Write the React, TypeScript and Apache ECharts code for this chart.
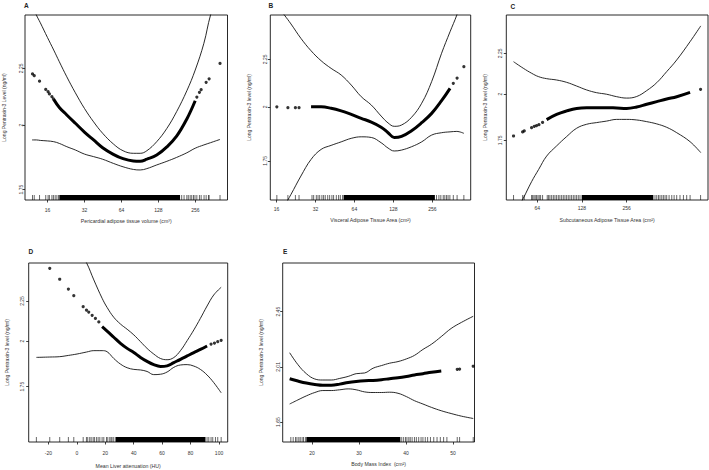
import React, { useEffect, useRef } from 'react';
import * as echarts from 'echarts';

const FONT = '"Liberation Sans", Arial, Helvetica, sans-serif';

// ---------- Panel A : Pericardial adipose tissue volume ----------
const aX = [12, 13, 14, 16, 18, 20, 23, 27, 32, 38, 45, 55, 66, 80, 91, 103, 124, 150, 180, 218, 255, 300, 340, 406];
const aFit = [null, null, null, null, 2.110, 2.075, 2.043, 2.008, 1.972, 1.940, 1.909, 1.883, 1.866, 1.857, 1.856, 1.864, 1.880, 1.912, 1.955, 2.026, 2.104, null, null, null];
const aUpper = [2.567, 2.513, 2.473, 2.399, 2.337, 2.281, 2.211, 2.139, 2.071, 2.014, 1.967, 1.924, 1.897, 1.887, 1.887, 1.897, 1.933, 1.987, 2.057, 2.148, 2.242, 2.370, 2.513, 2.662];
const aLower = [1.940, 1.940, 1.938, 1.936, 1.933, 1.926, 1.913, 1.900, 1.884, 1.874, 1.864, 1.848, 1.835, 1.825, 1.823, 1.828, 1.842, 1.856, 1.871, 1.889, 1.907, 1.920, 1.929, 1.942];
const aDots = [[12.1, 2.224], [12.5, 2.216], [13.8, 2.191], [15.5, 2.154], [16.2, 2.144], [16.6, 2.134], [17.4, 2.122], [17.9, 2.112], [263, 2.120], [276, 2.141], [285, 2.153], [313, 2.186], [331, 2.202], [406, 2.273]];
const aRug = [12.1, 12.5, 13.8, 15.5, 16.2, 16.6, 17.4, 17.9, 18.5, 19.1, 19.7, 198, 207, 218, 224, 232, 239, 247, 254, 263, 276, 285, 301, 313, 327, 331, 406];
const aRugBand = [[20, 192]];

// ---------- Panel B : Visceral adipose tissue area ----------
const bX = [16.1, 18.4, 20.7, 24.7, 29.6, 35.4, 42.3, 50.6, 60.5, 72.3, 86.5, 103, 116.5, 130, 148, 177, 212, 253, 302, 351, 396, 449];
const bFit = [null, null, null, null, 2.0, 2.0, 1.993, 1.98, 1.963, 1.944, 1.926, 1.902, 1.876, 1.854, 1.859, 1.885, 1.923, 1.968, 2.031, 2.094, null, null];
const bUpper = [2.574, 2.511, 2.456, 2.370, 2.298, 2.242, 2.200, 2.164, 2.111, 2.051, 2.009, 1.955, 1.922, 1.906, 1.912, 1.949, 2.018, 2.129, 2.284, 2.409, 2.511, 2.650];
const bLower = [1.514, 1.564, 1.610, 1.685, 1.756, 1.800, 1.818, 1.834, 1.850, 1.857, 1.854, 1.830, 1.806, 1.793, 1.797, 1.812, 1.834, 1.865, 1.876, 1.880, 1.882, 1.873];
const bDots = [[16.1, 2.0], [19.6, 1.996], [22.4, 1.996], [23.9, 1.996], [372, 2.12], [398, 2.148], [449, 2.209]];
const bRug = [16.1, 19.6, 22.4, 23.9, 30.1, 31.0, 32.5, 33.5, 34.5, 35.9, 37.0, 38.1, 39.8, 41.2, 42.9, 44.2, 46.4, 48.3, 49.8, 51.9, 276, 288, 298, 311, 320, 330, 339, 350, 372, 398, 449];
const bRugBand = [[52.8, 268]];

// ---------- Panel C : Subcutaneous adipose tissue area ----------
const cX = [44.3, 51.5, 58.6, 65.4, 74, 86.4, 100.9, 117.8, 137.6, 160.7, 187.7, 219.2, 256, 299, 349, 408, 476, 556, 684, 807];
const cFit = [null, null, null, null, 1.858, 1.886, 1.905, 1.919, 1.923, 1.923, 1.923, 1.921, 1.919, 1.927, 1.942, 1.957, 1.972, 1.985, 2.010, null];
const cUpper = [2.196, 2.155, 2.124, 2.103, 2.091, 2.083, 2.069, 2.047, 2.024, 2.008, 1.999, 1.985, 1.977, 1.986, 2.020, 2.067, 2.134, 2.207, 2.327, 2.435];
const cLower = [1.404, 1.480, 1.553, 1.609, 1.672, 1.722, 1.769, 1.812, 1.833, 1.842, 1.850, 1.859, 1.859, 1.856, 1.847, 1.835, 1.817, 1.789, 1.743, 1.689];
const cDots = [[44.3, 1.772], [51.0, 1.793], [52.3, 1.798], [58.6, 1.815], [61.1, 1.822], [63.3, 1.826], [65.7, 1.831], [69.5, 1.843], [805, 2.028]];
const cRug = [44.3, 51.0, 52.3, 58.6, 59.6, 60.8, 62.0, 63.3, 64.7, 66.0, 67.4, 69.5, 74.7, 76.3, 77.9, 80.0, 82.1, 84.2, 86.4, 88.7, 90.9, 93.4, 95.8, 98.3, 100.9, 103.5, 106.2, 109, 111.9, 114.8, 117.8, 120.9, 124.1, 397, 408, 419, 429, 441, 452, 464, 476, 494, 515, 534, 556, 585, 617, 649, 684, 805];
const cRugBand = [[127.4, 387]];

// ---------- Panel D : Mean liver attenuation ----------
const dX = [-28.4, -19.0, -12.0, -5.9, 0.2, 6.8, 12.0, 17.8, 21.3, 26.0, 30.7, 35.4, 40.1, 44.8, 49.4, 54.1, 58.8, 63.5, 68.2, 72.9, 77.6, 82.3, 86.9, 91.6, 96.3, 101.5];
const dFit = [null, null, null, null, null, null, null, 2.087, 2.060, 2.023, 1.987, 1.958, 1.934, 1.907, 1.885, 1.867, 1.857, 1.860, 1.878, 1.896, 1.915, 1.934, 1.952, 1.972, null, null];
const dUpper = [null, null, null, null, 2.639, 2.518, 2.393, 2.268, 2.208, 2.145, 2.103, 2.071, 2.037, 1.997, 1.958, 1.926, 1.901, 1.894, 1.906, 1.945, 2.003, 2.067, 2.138, 2.217, 2.290, 2.342];
const dLower = [1.907, 1.909, 1.911, 1.918, 1.926, 1.937, 1.945, 1.945, 1.939, 1.901, 1.870, 1.850, 1.841, 1.838, 1.830, 1.813, 1.815, 1.827, 1.852, 1.865, 1.867, 1.859, 1.841, 1.811, 1.771, 1.719];
const dDots = [[-19.0, 2.476], [-12.0, 2.398], [-5.9, 2.330], [-2.1, 2.285], [4.5, 2.213], [6.8, 2.191], [8.4, 2.178], [10.8, 2.157], [13.1, 2.138], [15.5, 2.116], [94.4, 1.983], [96.8, 1.989], [99.1, 1.997], [101.5, 2.005]];
const dRug = [-28.4, -19.0, -12.0, -5.9, -2.1, 4.5, 6.8, 7.7, 9.1, 10.1, 11.5, 12.4, 13.8, 15.0, 16.2, 17.8, 19.0, 20.9, 21.8, 23.2, 24.1, 24.8, 26.0, 91.6, 92.8, 94.4, 95.6, 97.5, 99.1, 101.5];
const dRugBand = [[27.2, 90.5]];

// ---------- Panel E : Body mass index ----------
const eX = [15.25, 17.0, 18.8, 20.6, 22.3, 24.1, 25.9, 27.7, 29.4, 31.2, 33.0, 34.8, 36.5, 38.3, 40.1, 41.8, 43.6, 45.4, 47.5, 49.6, 51.8, 54.3];
const eFit = [1.927, 1.911, 1.897, 1.888, 1.883, 1.883, 1.890, 1.901, 1.908, 1.913, 1.915, 1.920, 1.927, 1.934, 1.943, 1.953, 1.962, 1.972, 1.981, null, null, null];
const eUpper = [2.115, 2.027, 1.962, 1.925, 1.918, 1.918, 1.929, 1.943, 1.962, 1.967, 2.001, 2.020, 2.037, 2.049, 2.069, 2.095, 2.140, 2.180, 2.241, 2.307, 2.358, 2.410];
const eLower = [1.760, 1.786, 1.812, 1.834, 1.847, 1.847, 1.852, 1.858, 1.852, 1.838, 1.834, 1.834, 1.836, 1.829, 1.807, 1.781, 1.760, 1.739, 1.718, 1.701, 1.685, 1.671];
const eDots = [[50.9, 1.993], [51.4, 1.995], [54.3, 2.015]];
const eRug = [15.5, 16.0, 16.5, 16.8, 17.2, 17.5, 17.9, 18.2, 18.6, 39.1, 39.5, 39.9, 40.2, 40.6, 40.9, 41.3, 41.8, 42.2, 42.7, 43.2, 43.6, 44.1, 44.6, 45.2, 45.9, 46.6, 47.3, 48.0, 48.7, 50.9, 51.4, 54.3];
const eRugBand = [[18.8, 38.8]];

// tick labels
const adiposeTicks = [16, 32, 64, 128, 256];
const subcutTicks = [64, 128, 256];
const liverTicks = [-20, 0, 20, 40, 60, 80, 100];
const bmiTicks = [20, 30, 40, 50];
const ptxTicks = [1.75, 2, 2.25];
const ptxTicksE = [1.65, 2.01, 2.45];

const panels = [
  {
    letter: 'A', letterPos: [24, 2], grid: [25, 15, 202.5, 185], xLog: true,
    xRange: [10.51, 467], yRange: [1.713, 2.513], xTicks: adiposeTicks, yTicks: ptxTicks,
    xName: 'Pericardial adipose tissue volume (cm\u00B3)', yName: 'Long Pentraxin-3 Level (ng/ml)',
    xMargin: 7, xGap: 18, yMargin: 2, yGap: 19,
    x: aX, fit: aFit, upper: aUpper, lower: aLower, dots: aDots, rug: aRug, band: aRugBand,
  },
  {
    letter: 'B', letterPos: [268.5, 1.5], grid: [270.3, 15, 200.4, 185], xLog: true,
    xRange: [14.33, 507], yRange: [1.588, 2.511], xTicks: adiposeTicks, yTicks: ptxTicks,
    xName: 'Visceral Adipose Tissue Area (cm\u00B2)', yName: 'Long Pentraxin-3 level (ng/ml)',
    xMargin: 6, xGap: 17, yMargin: 3, yGap: 19,
    x: bX, fit: bFit, upper: bUpper, lower: bLower, dots: bDots, rug: bRug, band: bRugBand,
  },
  {
    letter: 'C', letterPos: [510.5, 2.5], grid: [506.3, 15, 201.7, 185], xLog: true,
    xRange: [39.6, 903], yRange: [1.473, 2.513], xTicks: subcutTicks, yTicks: ptxTicks,
    xName: 'Subcutaneous Adipose Tissue Area (cm\u00B2)', yName: 'Long Pentraxin-3 level (ng/ml)',
    xMargin: 5.5, xGap: 17, yMargin: 4, yGap: 19,
    x: cX, fit: cFit, upper: cUpper, lower: cLower, dots: cDots, rug: cRug, band: cRugBand,
  },
  {
    letter: 'D', letterPos: [28.5, 247.5], grid: [28.7, 263, 199, 179], xLog: false,
    xRange: [-33.8, 106.1], yRange: [1.488, 2.515], xTicks: liverTicks, yTicks: ptxTicks,
    xName: 'Mean Liver attenuation (HU)', yName: 'Long Pentraxin-3 level (ng/ml)',
    xMargin: 8.5, xGap: 21, yMargin: 4, yGap: 19,
    x: dX, fit: dFit, upper: dUpper, lower: dLower, dots: dDots, rug: dRug, band: dRugBand,
  },
  {
    letter: 'E', letterPos: [283, 247.5], grid: [282.7, 263, 191.8, 179], xLog: false,
    xRange: [13.77, 54.57], yRange: [1.536, 2.917], xTicks: bmiTicks, yTicks: ptxTicksE,
    xName: 'Body Mass Index  (cm\u00B2)', yName: 'Long Pentraxin-3 level (ng/ml)',
    xMargin: 8, xGap: 19, yMargin: 2.5, yGap: 19,
    x: eX, fit: eFit, upper: eUpper, lower: eLower, dots: eDots, rug: eRug, band: eRugBand,
  },
];

const TEXT = '#333';
const RUG_H = 5;

function buildOption() {
  const grid: any[] = [];
  const xAxis: any[] = [];
  const yAxis: any[] = [];
  const series: any[] = [];
  const title: any[] = [];

  panels.forEach((p, i) => {
    const tx = (v: number) => (p.xLog ? Math.log2(v) : v);
    const ty = (v: number) => Math.log(v);
    const yMinT = ty(p.yRange[0]);

    grid.push({
      left: p.grid[0], top: p.grid[1], width: p.grid[2], height: p.grid[3],
      show: true, borderColor: '#111', borderWidth: 0.9, backgroundColor: 'transparent',
      containLabel: false, outerBoundsMode: 'none',
    });

    xAxis.push({
      type: 'value', gridIndex: i, min: tx(p.xRange[0]), max: tx(p.xRange[1]),
      position: 'bottom',
      axisLine: { show: false, onZero: false }, splitLine: { show: false },
      axisTick: { show: true, customValues: p.xTicks.map(tx), length: 2.5, lineStyle: { color: '#111', width: 0.8 } },
      axisLabel: {
        customValues: p.xTicks.map(tx),
        formatter: (v: number) => String(Math.round(p.xLog ? Math.pow(2, v) : v)),
        fontSize: 5, color: TEXT, fontFamily: FONT, margin: p.xMargin,
      },
      name: p.xName, nameLocation: 'middle', nameGap: p.xGap,
      nameTextStyle: { fontSize: 5.2, color: TEXT, fontFamily: FONT },
    });

    yAxis.push({
      type: 'value', gridIndex: i, min: ty(p.yRange[0]), max: ty(p.yRange[1]),
      position: 'left',
      axisLine: { show: false, onZero: false }, splitLine: { show: false },
      axisTick: { show: true, customValues: p.yTicks.map(ty), length: 2.5, lineStyle: { color: '#111', width: 0.8 } },
      axisLabel: {
        customValues: p.yTicks.map(ty), rotate: 90,
        formatter: (v: number) => String(Math.round(Math.exp(v) * 100) / 100),
        fontSize: 5, color: TEXT, fontFamily: FONT, margin: p.yMargin,
      },
      name: p.yName, nameLocation: 'middle', nameGap: p.yGap, nameRotate: 90,
      nameTextStyle: { fontSize: 5, color: TEXT, fontFamily: FONT },
    });

    const pts = (ys: (number | null)[]) =>
      p.x.map((x, k) => (ys[k] == null ? null : [tx(x), ty(ys[k] as number)])).filter((d) => d !== null);

    const base = { xAxisIndex: i, yAxisIndex: i, silent: true, animation: false };

    series.push({
      ...base, type: 'line', data: pts(p.upper), symbol: 'none', smooth: 0.4,
      lineStyle: { color: '#111', width: 0.9 }, z: 3,
    });
    series.push({
      ...base, type: 'line', data: pts(p.lower), symbol: 'none', smooth: 0.4,
      lineStyle: { color: '#111', width: 0.9 }, z: 3,
    });
    series.push({
      ...base, type: 'line', data: pts(p.fit), symbol: 'none', smooth: 0.4,
      lineStyle: { color: '#000', width: 3 }, z: 4,
    });
    series.push({
      ...base, type: 'scatter', data: p.dots.map((d) => [tx(d[0]), ty(d[1])]),
      symbol: 'circle', symbolSize: 3.2, itemStyle: { color: '#000' }, z: 4,
    });
    series.push({
      ...base, type: 'custom', clip: false, z: 5,
      data: p.rug.map((x) => [tx(x), yMinT]),
      renderItem: (_params: any, api: any) => {
        const pt = api.coord([api.value(0), api.value(1)]);
        return {
          type: 'line',
          shape: { x1: pt[0], y1: pt[1], x2: pt[0], y2: pt[1] - RUG_H },
          style: { stroke: '#000', lineWidth: 0.6 },
        };
      },
    });
    series.push({
      ...base, type: 'custom', clip: false, z: 5,
      encode: { x: [0, 1], y: 2 },
      data: p.band.map((b) => [tx(b[0]), tx(b[1]), yMinT]),
      renderItem: (_params: any, api: any) => {
        const p1 = api.coord([api.value(0), api.value(2)]);
        const p2 = api.coord([api.value(1), api.value(2)]);
        return {
          type: 'rect',
          shape: { x: p1[0], y: p1[1] - RUG_H, width: p2[0] - p1[0], height: RUG_H },
          style: { fill: '#000' },
        };
      },
    });

    title.push({
      text: p.letter, left: p.letterPos[0], top: p.letterPos[1], padding: 0,
      textStyle: { fontSize: 6.5, fontWeight: 'bold', color: '#222', fontFamily: FONT },
    });
  });

  return { animation: false, backgroundColor: '#fff', title, grid, xAxis, yAxis, series };
}

export default function App() {
  const ref = useRef<HTMLDivElement>(null);
  useEffect(() => {
    if (!ref.current) return;
    const chart = echarts.init(ref.current, null, { renderer: 'svg' });
    chart.setOption(buildOption() as any);
    return () => chart.dispose();
  }, []);
  return (
    <div
      ref={ref}
      style={{ position: 'absolute', left: 0, top: 0, width: 709, height: 470, background: '#fff' }}
    />
  );
}
